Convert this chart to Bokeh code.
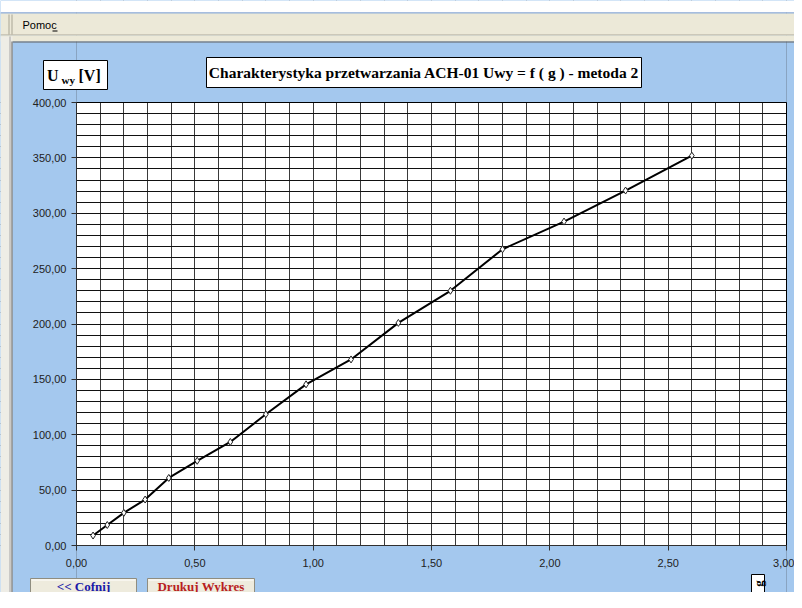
import math
from bokeh.plotting import figure
from bokeh.models import (Range1d, FixedTicker, SingleIntervalTicker,
                          ColumnDataSource, LinearAxis, Grid)
from bokeh.core.properties import value
from bokeh.embed import file_html
from bokeh.resources import INLINE

# ---------------- data ----------------
g_values = [0.07, 0.13, 0.20, 0.29, 0.39, 0.51, 0.65, 0.80, 0.97, 1.16,
            1.36, 1.58, 1.80, 2.06, 2.32, 2.60]
u_values = [9.0, 18.5, 29.5, 41.5, 61.0, 76.5, 93.5, 118.5, 145.5, 168.0,
            201.0, 230.0, 267.5, 292.5, 320.5, 352.0]

x_ticks = [0, 0.5, 1, 1.5, 2, 2.5, 3]
x_tick_labels = ["0,00", "0,50", "1,00", "1,50", "2,00", "2,50", "3,00"]
y_ticks = [0, 50, 100, 150, 200, 250, 300, 350, 400]
y_tick_labels = ["0,00", "50,00", "100,00", "150,00", "200,00",
                 "250,00", "300,00", "350,00", "400,00"]

title_text = "Charakterystyka przetwarzania ACH-01 Uwy = f ( g ) - metoda 2"
y_label_main = "U"
y_label_sub = "wy"
y_label_unit = "[V]"
x_label_text = "g"
menu_text = "Pomoc"
button_back = "<< Cofnij"
button_print = "Drukuj Wykres"

BLUE = "#A4C8EE"
BEIGE = "#ECE9D8"

# ---------------- geometry (canvas pixels) ----------------
W, H = 794, 592
PL, PR, PT, PB = 76, 786, 102, 545          # plot area in canvas pixels
x_lo, x_hi = x_ticks[0], x_ticks[-1]
y_lo, y_hi = y_ticks[0], y_ticks[-1]
SX = (PR - PL) / (x_hi - x_lo)
SY = (PB - PT) / (y_hi - y_lo)


def X(px):
    return x_lo + (px - PL) / SX


def Y(py):
    return y_lo + (PB - py) / SY


p = figure(width=W, height=H,
           x_range=Range1d(X(0), X(W)), y_range=Range1d(Y(H), Y(0)),
           x_axis_type=None, y_axis_type=None,
           output_backend="svg", toolbar_location=None,
           min_border=0, min_border_left=0, min_border_right=0,
           min_border_top=0, min_border_bottom=0,
           background_fill_color=BLUE, border_fill_color=BLUE,
           outline_line_color=None)

# white plot area (below the grid)
p.quad(left=[x_lo], right=[x_hi], bottom=[y_lo], top=[y_hi],
       fill_color="white", line_color=None, level="image")

# grid
p.add_layout(Grid(dimension=0, ticker=SingleIntervalTicker(interval=0.1),
                  grid_line_color="#3a3a3a", grid_line_width=1))
p.add_layout(Grid(dimension=1, ticker=SingleIntervalTicker(interval=10),
                  grid_line_color="#111111", grid_line_width=1))


def box(x0, y0, x1, y1, fill, line=None, lw=1):
    p.quad(left=[X(x0)], right=[X(x1)], top=[Y(y0)], bottom=[Y(y1)],
           fill_color=fill, line_color=line, line_width=lw)


def label(x, y, text, size="14px", font="Liberation Serif", style="bold",
          color="black", align="center", baseline="middle", angle=0.0):
    p.text(x=[X(x)], y=[Y(y)], text=[text], text_font=value(font),
           text_font_style=style, text_font_size=size, text_color=color,
           text_align=align, text_baseline=baseline, angle=angle)


# blue surroundings covering the grid outside the plot area
box(0, 0, PL, H, BLUE)
box(PR, 0, W, H, BLUE)
box(PL, 0, PR, PT, BLUE)
box(PL, PB, PR, H, BLUE)
# plot area outline
p.quad(left=[x_lo], right=[x_hi], bottom=[y_lo], top=[y_hi],
       fill_color=None, line_color="black", line_width=1)

# window chrome: top strip, menu bar, frame
box(0, 0, W, 12, "white")
box(0, 12, W, 13, "#7A96C8")
box(0, 13, W, 35, BEIGE)
box(0, 34, W, 35, "#ACA899")
box(0, 35, W, 41, BEIGE)
box(12, 41, W, 42, "#5E5E5E")
box(0, 36, 12, H, "#EEEDE6")
box(9, 36, 10, H, "#A5A5A5")
box(11, 41, 12, H, "#5E5E5E")
box(8, 14, 9, 34, "#A8A594")
box(11, 14, 12, 34, "#A8A594")
label(22, 24.5, menu_text, size="11px", font="Liberation Sans",
      style="normal", align="left")
box(52, 30, 57, 31, "black")

# y-axis caption box
box(43, 60, 107, 89, "white", line="black")
label(46.5, 75, y_label_main, size="16px", align="left")
label(61, 79, y_label_sub, size="11px", align="left")
label(78, 75, y_label_unit, size="16px", align="left")

# title box
box(206, 57, 641, 87, "white", line="black")
label(423.5, 72, title_text, size="15.5px")

# x-axis caption box (rotated g)
box(751, 574, 764, 598, "white", line="black")
label(757.5, 583, x_label_text, size="13px", angle=math.pi / 2)

# buttons
box(30, 578, 136, 600, "#EEEBDD", line="#8F8D80")
box(147, 578, 254, 600, "#EEEBDD", line="#8F8D80")
box(31, 579, 135, 580, "white")
box(148, 579, 253, 580, "white")
label(83, 585.5, button_back, size="13px", color="#1A1AA8")
label(200.5, 585.5, button_print, size="13px", color="#B81E1E")

# ---------------- data series ----------------
src = ColumnDataSource(dict(g=g_values, u=u_values))
p.line("g", "u", source=src, line_color="black", line_width=2)
p.scatter("g", "u", source=src, marker="diamond", size=7,
          fill_color="white", line_color="#222222", line_width=1)

# ---------------- axes ----------------
yaxis = LinearAxis(fixed_location=x_lo,
                   ticker=FixedTicker(ticks=y_ticks, minor_ticks=[]),
                   bounds=(y_lo, y_hi))
xaxis = LinearAxis(fixed_location=y_lo,
                   ticker=FixedTicker(ticks=x_ticks, minor_ticks=[]),
                   bounds=(x_lo, x_hi))
yaxis.major_label_overrides = dict(zip(y_ticks, y_tick_labels))
xaxis.major_label_overrides = dict(zip(x_ticks, x_tick_labels))
for ax in (xaxis, yaxis):
    ax.major_tick_out = 5
    ax.major_tick_in = 0
    ax.minor_tick_out = 0
    ax.minor_tick_in = 0
    ax.axis_line_color = "#303030"
    ax.major_tick_line_color = "#303030"
    ax.major_label_text_font = "Liberation Sans"
    ax.major_label_text_font_size = "11px"
    ax.major_label_text_color = "#222222"
yaxis.major_label_standoff = 5
xaxis.major_label_standoff = 8
p.add_layout(yaxis, "left")
p.add_layout(xaxis, "below")

open("out.html", "w").write(file_html(p, INLINE))
